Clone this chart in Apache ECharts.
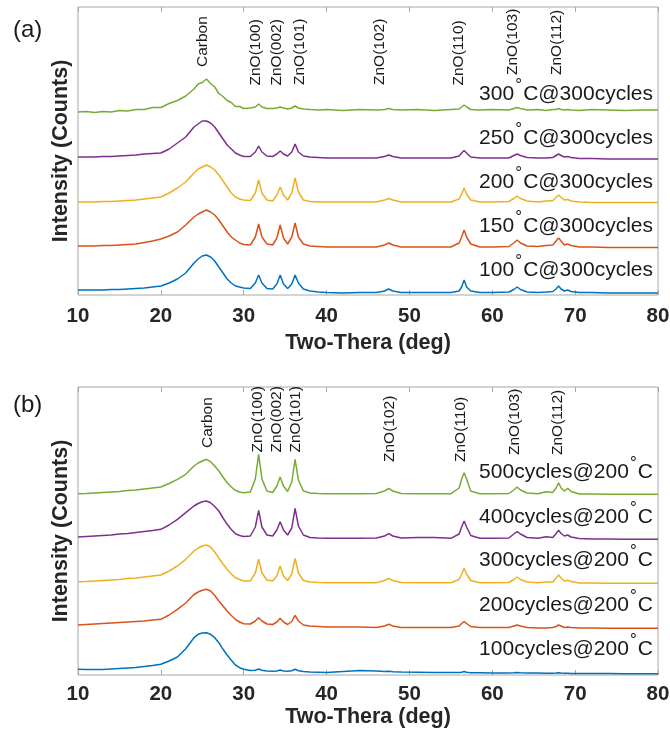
<!DOCTYPE html>
<html><head><meta charset="utf-8">
<script src="https://cdn.jsdelivr.net/npm/echarts@6/dist/echarts.min.js"></script>
<style>html,body{margin:0;padding:0;background:#fff}#c{width:670px;height:740px}</style>
</head><body><div id="c"></div>
<script>
// ---------- DATA ----------
const twoTheta = [10,11,12,13,14,15,16,17,18,19,
 20,21,22,23,24,24.5,25,25.5,26,26.5,
 27,27.5,28,28.5,29,29.5,30,30.8,31.4,31.8,
 32.2,32.8,33.5,34.0,34.4,34.8,35.3,35.8,36.2,36.6,
 37.2,38,39,40,42,44,46,47,47.5,48,
 49,51,53,55,56,56.3,56.6,56.9,57.4,58.5,
 60,62,62.6,63,63.4,64.2,65.5,66.5,67.3,67.7,
 68,68.3,68.7,69.1,69.5,70.5,72,74,76,78,
 80];
const xTicks = [10,20,30,40,50,60,70,80];

// (a) temperature series @300 cycles (stacked intensity, a.u.)
const a100 = [5,5,5,5,5.5,5.5,6,6.5,7,8,
 9,12,16,22,32,36,39,40,38,34,
 28,22,16,12,9,8,7,6.5,12,20,
 12,6.5,6,11,20,11,6.5,11,20,12,
 6,4,3,2.5,2,2.5,2.5,4,6,4,
 2.5,2.5,2.5,2.5,4,8,15,8,4,2.5,
 2.5,3,5.5,8,5.5,3,2.5,3,3.5,6,
 9,6,4,5,3.5,2.5,2.5,2,2,2,
 2];
const a150 = [49,49,49,49.5,49.5,50,50.5,51,52.5,54,
 56,59,63,70,78,81,83,85,83,80,
 75,69,63,58,55,52,50.5,50,58,71,
 58,51,50,57,70,57,51,58,72,58,
 51,49,48.5,48,48,48,48,50,52,50,
 48,48,48,48,52,58,65,58,51,48,
 48,48.5,52,55,52,49,48.5,49.5,50,54,
 57,54,50,51,49.5,48,48,47.5,47.5,47.5,
 47.5];
const a200 = [93,93,93,93.5,93.5,94,94.5,95,96,97,
 98,102,107,113,122,126,128,130,128,125,
 120,114,108,102,98,96,95,94.5,102,115,
 102,95,94,100,108,100,95,102,117,103,
 95,93.5,93,93,93,93,93,95,96.5,95,
 93,93,93,93,96,101,107,101,95,93,
 93,93.5,96.5,99,96.5,94,93,94,94.5,97.5,
 100,97.5,95,95.5,94,93,92.5,92.5,92.5,92.5,
 92.5];
const a250 = [138,138,138,138.5,138.5,139,139.5,140,141,141.5,
 142,146,152,158,168,171,174,174,172,168,
 162,156,150,146,142,140,138.5,138.5,143,149,
 143,139,138.5,141,144,141,139,143,151,143,
 139,138,137.5,137,137,137,137,138.5,140,138.5,
 137,137,137,137,139,142,144.5,142,138,137,
 137,137,139.5,141,139.5,137.5,137,137,137.5,139.5,
 141,139.5,138,138.5,137.5,136.5,136.5,136,136,136,
 136];
const a300 = [183,183.5,182.5,183.5,183,184.5,184,185.5,185.5,187.5,
 187.5,191.5,194.5,199,206,211,212.5,216,211.5,208,
 201.5,198.5,194.5,192.5,188.5,188.5,186.5,187,188,191,
 188,186.5,186.5,187,188,187,186,187,189,187,
 186,185.5,185,185.5,184.5,185.5,185,185.5,186.5,185.5,
 185,185.5,184.5,185.5,186,188,190,188,185.5,185,
 185.5,185,186.5,187.5,186.5,185,185.5,184.5,185.5,185.5,
 186.5,185.5,185,185.5,185,184.5,185.5,185,184.5,185,
 185];

// (b) cycle series @200 C
const b100 = [5.7,5.5,5.5,5.5,6,6.5,7,7.5,8.5,9.5,
 10.7,14,18,26.3,37.3,40.7,42,42.3,40.7,37.3,
 32.3,25.7,20,14.7,10,7.3,5.7,4.5,4.8,6,
 4.8,4,3.8,4,5,4,3.8,4.2,5.8,4.2,
 3.5,3,2.8,2.5,3.5,4.5,4,3.5,3.8,3.2,
 3,2.8,2.5,2.5,2.5,2.8,3.5,2.8,2.3,2.3,
 2,2,2.2,2.5,2.2,2,2,1.8,1.8,2,
 2.3,2,1.8,1.8,1.6,1.5,1.5,1.5,1.3,1.3,
 1.3];
const b200 = [50,50.5,51,51.5,52,52.5,53,53.5,54,55,
 55.7,60,65.7,72,80.5,83,84.7,85.7,84,79.5,
 74,69,64,59.5,55.7,53,51.3,51,54,57.3,
 54,51,50.5,53,56.7,53,50.5,53.5,59.7,54,
 50,49,48.5,48,48,48,47.5,49,50.7,49,
 47.5,47.5,47.5,47.5,49,51.5,53.3,51.5,48.5,47.5,
 47.5,47.5,49,50,49,47.5,47,47,47.5,48.5,
 50,49,47.5,48,47.5,47,47,46.7,46.7,46.7,
 46.7];
const b300 = [93.3,93.5,94,94.5,95,95.5,96.5,97,98,99,
 100,104,109,115.7,124,127,129,130,128,123,
 117,111,105.7,101,97.3,95.5,94,94,102,115.7,
 102,95,94,99,109,99,94.5,101,116.7,102,
 94.5,93,92.5,92.3,92.3,92.3,92.3,94.5,96.7,94.5,
 92.5,92.3,92.3,92.3,95.5,101,106.7,101,94.5,92.3,
 92.3,92.5,95.5,98,95.5,93,92.3,93,93,97,
 100,97,94,94.7,93.5,92,92,91.7,91.7,91.7,
 91.7];
const b400 = [138,138.5,139,139.5,140,141,141.5,142.5,143.5,144.5,
 145.7,150,155.7,162.3,169,171.5,173.3,174,172.3,168.5,
 164,157,150.7,145.5,141.3,139.5,138.5,139,148,164.7,
 148,140,139,145,153.3,145,140,147,166.7,149,
 140,137.5,137,136.7,136.7,136.7,137,139,141.3,139,
 137,137.5,137.5,136.7,141,148,154,148,139.5,136.7,
 136.7,137,141,143.3,141,137.5,136.7,138.3,137.5,141.5,
 144.7,141.5,139,140,138,136.5,136,136,135.7,135.7,
 135.7];
const b500 = [181.3,181.5,182,182.5,183,183.5,184.5,185,186,187,
 188,191.5,195.7,200.7,209,212,214,215.7,213.3,209,
 204,198,192.3,188,184.7,183,182.3,183,196,220.7,
 196,184,182.5,189,198,189,183.5,193,215.7,195,
 184,182,181.5,181.3,181.3,181.3,181.5,184,186.7,184,
 181.5,181.3,181.3,181.3,187,196,202.3,196,184,181.3,
 181.3,181.5,185,188,185,182,181.3,183.3,182.5,187,
 192.3,187,184,186.7,183.5,181,181,180.7,180.7,180.7,
 180.7];

const seriesA = [a100, a150, a200, a250, a300];
const seriesB = [b100, b200, b300, b400, b500];
const labelsA = ['100°C@300cycles','150°C@300cycles','200°C@300cycles','250°C@300cycles','300°C@300cycles'];
const labelsB = ['100cycles@200°C','200cycles@200°C','300cycles@200°C','400cycles@200°C','500cycles@200°C'];
const peakNames = ['Carbon','ZnO(100)','ZnO(002)','ZnO(101)','ZnO(102)','ZnO(110)','ZnO(103)','ZnO(112)'];

// ---------- LAYOUT / STYLE ----------
const colors = ['#0072BD','#D95319','#EDB120','#7E2F8E','#77AC30'];
const frame = '#a8a8a8';
const txt = '#262626';
const FF = '"Liberation Sans", Arial, sans-serif';
const peakLabA = {x:[25.1,31.4,34.0,36.8,46.45,55.94,62.5,67.8], y:[228,209.5,209.5,210,210,209.5,220,220]};
const peakLabB = {x:[25.6,31.75,34.0,36.3,47.6,56.2,62.7,67.9], y:[227,222.5,222.5,222.5,213,213,220,220]};
const sampLabYA = [25,69,113,157,201];
const sampLabYB = [26,70,115,158,203];
const labelMargin = [11, 9];
const titleGap = [37, 31];

const chart = echarts.init(document.getElementById('c'), null, {renderer:'canvas'});

function xAx(g, bottom){
  return {
    gridIndex:g, type:'value', min:10, max:80, interval:10,
    position: bottom ? 'bottom' : 'top',
    axisLine:{show:false},
    axisTick:{show:true, inside:true, length:5, lineStyle:{color:frame, width:1}},
    axisLabel: bottom ? {show:true, fontSize:20.5, fontWeight:'bold', color:txt, fontFamily:FF, margin:labelMargin[g]} : {show:false},
    splitLine:{show:false},
    name: bottom ? 'Two-Thera (deg)' : '',
    nameLocation:'middle', nameGap:titleGap[g],
    nameTextStyle:{fontSize:21.5, fontWeight:'bold', color:txt, fontFamily:FF}
  };
}
function yAx(g){
  return {
    gridIndex:g, type:'value', min:0, max:288,
    axisLine:{show:false}, axisTick:{show:false}, axisLabel:{show:false}, splitLine:{show:false},
    name:'Intensity (Counts)', nameLocation:'middle', nameGap:6, nameRotate:90,
    nameTextStyle:{fontSize:21.5, fontWeight:'bold', color:txt, fontFamily:FF}
  };
}
const series = [];
[seriesA, seriesB].forEach((set, g) => {
  set.forEach((arr, k) => {
    series.push({
      type:'line', xAxisIndex:g*2, yAxisIndex:g,
      data: twoTheta.map((x,i)=>[x, arr[i]]),
      showSymbol:false, symbol:'none', silent:true,
      lineStyle:{color:colors[k], width:1.5}, z:2+k
    });
  });
});

chart.setOption({
  animation:false,
  backgroundColor:'#fff',
  grid:[
    {left:78, top:7, width:580, height:288, show:true, borderColor:frame, borderWidth:1, backgroundColor:'transparent', outerBoundsMode:'none'},
    {left:78, top:387, width:580, height:288, show:true, borderColor:frame, borderWidth:1, backgroundColor:'transparent', outerBoundsMode:'none'}
  ],
  xAxis:[xAx(0,true), xAx(0,false), xAx(1,true), xAx(1,false)],
  yAxis:[yAx(0), yAx(1)],
  series: series
});

// ---------- annotations ----------
const ctx = document.createElement('canvas').getContext('2d');
const sampFont = 21;
ctx.font = sampFont + 'px "Liberation Sans"';
const graphics = [];
function px(g, x, y){ return chart.convertToPixel({xAxisIndex:g*2, yAxisIndex:g}, [x, y]); }

[peakLabA, peakLabB].forEach((pl, g) => {
  peakNames.forEach((nm, i) => {
    const p = px(g, pl.x[i], pl.y[i]);
    graphics.push({type:'text', x:p[0], y:p[1], rotation:Math.PI/2, silent:true,
      style:{text:nm, fill:'#1a1a1a', fontSize:15.5, fontFamily:FF, align:'left', verticalAlign:'middle'}});
  });
});
[[labelsA, sampLabYA],[labelsB, sampLabYB]].forEach((pair, g) => {
  pair[0].forEach((lab, i) => {
    const parts = lab.split('°');
    const p = px(g, 80, pair[1][i]);
    const xr = p[0] - 5, yc = p[1];
    const wPost = ctx.measureText(parts[1]).width;
    graphics.push({type:'text', x:xr, y:yc, silent:true,
      style:{text:parts[1], fill:'#1a1a1a', fontSize:sampFont, fontFamily:FF, align:'right', verticalAlign:'middle'}});
    graphics.push({type:'text', x:xr - wPost - 4.5, y:yc - 9, silent:true,
      style:{text:'°', fill:'#1a1a1a', fontSize:17, fontFamily:FF, align:'center', verticalAlign:'middle'}});
    graphics.push({type:'text', x:xr - wPost - 9, y:yc, silent:true,
      style:{text:parts[0], fill:'#1a1a1a', fontSize:sampFont, fontFamily:FF, align:'right', verticalAlign:'middle'}});
  });
});
graphics.push({type:'text', x:13, y:30, silent:true, style:{text:'(a)', fill:'#1a1a1a', fontSize:24, fontFamily:FF, align:'left', verticalAlign:'middle'}});
graphics.push({type:'text', x:13, y:405.5, silent:true, style:{text:'(b)', fill:'#1a1a1a', fontSize:24, fontFamily:FF, align:'left', verticalAlign:'middle'}});
chart.setOption({graphic: graphics});
</script></body></html>
